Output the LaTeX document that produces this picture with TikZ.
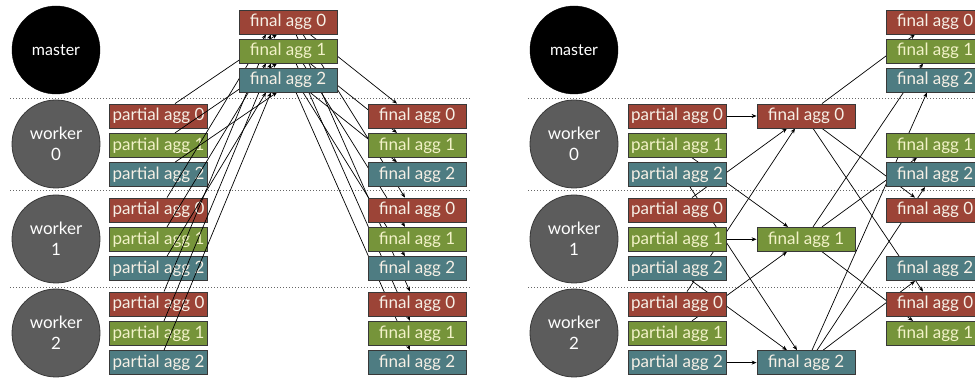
\documentclass[tikz,border=0pt]{standalone}
\usepackage{fontspec}
\setmainfont{Lato}
\usetikzlibrary{arrows.meta}
\definecolor{aggR}{HTML}{9C4437}
\definecolor{aggG}{HTML}{76943A}
\definecolor{aggB}{HTML}{4E7C82}
\definecolor{boxline}{HTML}{383838}
\definecolor{workerfill}{HTML}{5C5C5C}
\definecolor{lighttxt}{HTML}{F6F0E6}
\definecolor{greentxt}{HTML}{F2F2C8}
\pgfdeclarelayer{lowest}
\pgfdeclarelayer{lines}
\pgfsetlayers{lowest,lines,main}
\begin{document}
\begin{tikzpicture}[x=1pt,y=-1pt,
  agg/.style={draw=boxline, line width=0.8pt, minimum width=98pt, minimum height=24pt,
    inner sep=0pt, text=lighttxt, font=\fontsize{17}{17}\selectfont},
  boxR/.style={agg, fill=aggR},
  boxG/.style={agg, fill=aggG, text=greentxt},
  boxB/.style={agg, fill=aggB},
  masternode/.style={circle, minimum size=88pt, inner sep=0pt, fill=black, draw=black,
    text=white, font=\fontsize{16}{16}\selectfont},
  workernode/.style={circle, minimum size=88pt, inner sep=0pt, fill=workerfill, draw=boxline,
    line width=0.8pt, text=white, align=center, font=\fontsize{17}{21}\selectfont},
  sep/.style={draw=gray!80!black, line width=0.8pt, dash pattern=on 1pt off 2pt},
  arr/.style={-{Stealth[length=5pt,width=4pt]}, line width=0.7pt, black}]
\useasboundingbox (0,0) rectangle (975,379);

% separators
\begin{pgfonlayer}{lowest}
\foreach \y in {98,190,287} {
  \draw[sep] (10,\y) -- (470,\y);
  \draw[sep] (528,\y) -- (975,\y);
}
\end{pgfonlayer}

% ===== left panel =====
\node[masternode] (Lm) at (56,50) {master};
\node[workernode] (Lw0) at (56,144) {worker\\0};
\node[workernode] (Lw1) at (56,239) {worker\\1};
\node[workernode] (Lw2) at (56,333) {worker\\2};

\begin{pgfonlayer}{lowest}
\foreach \w in {0,1,2} {
  \foreach \i/\c in {0/boxR,1/boxG,2/boxB} {
    \node[\c] (Lp\w\i) at (158.5,{116+94*\w+29.3*\i}) {partial agg \i};
  }
}
\end{pgfonlayer}
\foreach \i/\c in {0/boxR,1/boxG,2/boxB} {
  \node[\c] (Lt\i) at (288,{22+29*\i}) {final agg \i};
}
\foreach \w in {0,1,2} {
  \foreach \i/\c in {0/boxR,1/boxG,2/boxB} {
    \node[\c] (Lr\w\i) at (417,{116+94*\w+29.3*\i}) {final agg \i};
  }
}

% ===== right panel =====
\node[masternode] (Rm) at (574,50) {master};
\node[workernode] (Rw0) at (574,144) {worker\\0};
\node[workernode] (Rw1) at (574,239) {worker\\1};
\node[workernode] (Rw2) at (574,333) {worker\\2};

\foreach \w in {0,1,2} {
  \foreach \i/\c in {0/boxR,1/boxG,2/boxB} {
    \node[\c] (Rp\w\i) at (677,{116+94*\w+29.3*\i}) {partial agg \i};
  }
}
\node[boxR] (Rf0) at (806,116) {final agg 0};
\node[boxG] (Rf1) at (806,239.3) {final agg 1};
\node[boxB] (Rf2) at (806,362.6) {final agg 2};

\node[boxR] (Rt0) at (935,22) {final agg 0};
\node[boxG] (Rt1) at (935,51) {final agg 1};
\node[boxB] (Rt2) at (935,80) {final agg 2};
\node[boxG] (Rr01) at (935,145.3) {final agg 1};
\node[boxB] (Rr02) at (935,174.6) {final agg 2};
\node[boxR] (Rr10) at (935,210) {final agg 0};
\node[boxB] (Rr12) at (935,268.6) {final agg 2};
\node[boxR] (Rr20) at (935,304) {final agg 0};
\node[boxG] (Rr21) at (935,333.3) {final agg 1};

% ===== connectors =====
\begin{pgfonlayer}{lines}
% left: partial -> master final
\foreach \w/\s/\e in {0/16.5/-11, 1/8.5/-22, 2/5.5/-17} {
  \foreach \i in {0,1,2} {
    \draw[arr] ([xshift=\s pt]Lp\w\i.north) -- ([xshift=\e pt]Lt\i.south);
  }
}
% left: master final -> worker final
\foreach \w/\s/\e in {0/22/-20, 1/15/-12, 2/8/-7} {
  \foreach \i in {0,1,2} {
    \draw[arr] ([xshift=\s pt]Lt\i.south) -- ([xshift=\e pt]Lr\w\i.north);
  }
}
% right: partial -> owner final
\draw[arr] (Rp00.east) -- (Rf0.west);
\draw[arr] (Rp11.east) -- (Rf1.west);
\draw[arr] (Rp22.east) -- (Rf2.west);
\draw[arr] ([xshift=15pt]Rp01.south) -- ([xshift=-18pt]Rf1.north);
\draw[arr] ([xshift=13pt]Rp02.south) -- ([xshift=-9pt]Rf2.north);
\draw[arr] ([xshift=15pt]Rp10.north) -- ([xshift=-19pt]Rf0.south);
\draw[arr] ([xshift=15pt]Rp12.south) -- ([xshift=-19pt]Rf2.north);
\draw[arr] ([xshift=10pt]Rp20.north) -- ([xshift=-11pt]Rf0.south);
\draw[arr] ([xshift=15pt]Rp21.north) -- ([xshift=-19pt]Rf1.south);
% right: owner final -> copies
\draw[arr] ([xshift=16pt]Rf0.north) -- ([xshift=-20pt]Rt0.south);
\draw[arr] ([xshift=16pt]Rf0.south) -- ([xshift=-20pt]Rr10.north);
\draw[arr] ([xshift=7pt]Rf0.south) -- ([xshift=-12pt]Rr20.north);
\draw[arr] ([xshift=7pt]Rf1.north) -- ([xshift=-12pt]Rt1.south);
\draw[arr] ([xshift=16pt]Rf1.north) -- ([xshift=-18pt]Rr01.south);
\draw[arr] ([xshift=16pt]Rf1.south) -- ([xshift=-22pt]Rr21.north);
\draw[arr] ([xshift=6pt]Rf2.north) -- ([xshift=-8pt]Rt2.south);
\draw[arr] ([xshift=11pt]Rf2.north) -- ([xshift=-10pt]Rr02.south);
\draw[arr] ([xshift=17pt]Rf2.north) -- ([xshift=-20pt]Rr12.south);
\end{pgfonlayer}
\end{tikzpicture}
\end{document}
